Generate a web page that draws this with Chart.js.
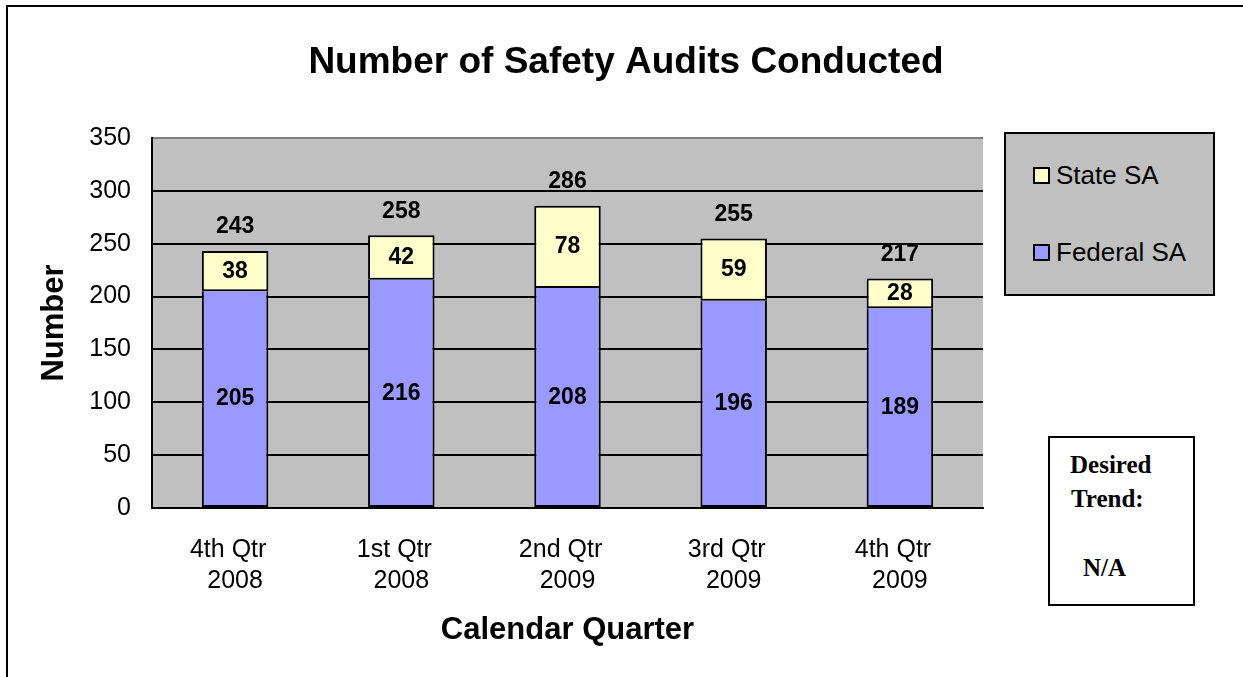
<!DOCTYPE html>
<html>
<head>
<meta charset="utf-8">
<title>Number of Safety Audits Conducted</title>
<script src="https://cdn.jsdelivr.net/npm/chart.js@4"></script>
<style>
  body { margin: 0; background: #fff; font-family: 'Liberation Sans', Arial, sans-serif; }
  #wrap { position: relative; width: 1243px; height: 677px; overflow: hidden; }
  #frame { position: absolute; left: 6px; top: 5px; width: 1300px; height: 700px;
           border-left: 2px solid #000; border-top: 2px solid #000; }
  #chart { position: absolute; left: 0; top: 0; }
  #legend { position: absolute; left: 1004px; top: 132px; width: 207px; height: 160px;
            background: #c0c0c0; border: 2px solid #000; }
  .item { position: absolute; left: 27px; height: 30px; display: flex; align-items: center;
          font-size: 26px; color: #000; white-space: nowrap; }
  .swatch { width: 13px; height: 13px; border: 2px solid #000; margin-right: 6px; }
  #trend { position: absolute; left: 1048px; top: 436px; width: 143px; height: 166px;
           border: 2px solid #000; background: #fff;
           font-family: 'Liberation Serif', 'Times New Roman', serif; font-weight: bold; font-size: 25px; }
  #trend div { position: absolute; white-space: nowrap; line-height: 30px; }
</style>
</head>
<body>
<div id="wrap">
  <div id="frame"></div>
  <canvas id="chart" width="1243" height="677"></canvas>
  <div id="legend"></div>
  <div id="trend">
    <div style="left:20px; top:12px;">Desired</div>
    <div style="left:21px; top:46px;">Trend:</div>
    <div style="left:33px; top:115px;">N/A</div>
  </div>
</div>
<script>
const quarters = [['4th Qtr', '2008'], ['1st Qtr', '2008'], ['2nd Qtr', '2009'], ['3rd Qtr', '2009'], ['4th Qtr', '2009']];
const federalSA = [205, 216, 208, 196, 189];
const stateSA = [38, 42, 78, 59, 28];
const yTicks = [0, 50, 100, 150, 200, 250, 300, 350];
const chartTitle = 'Number of Safety Audits Conducted';

const fontFamily = "'Liberation Sans', Arial, sans-serif";

// grey plot area like the original
const plotBackground = {
    id: 'plotBackground',
    beforeDraw(chart) {
        const a = chart.chartArea;
        const ctx = chart.ctx;
        ctx.save();
        ctx.fillStyle = '#c0c0c0';
        ctx.fillRect(a.left, a.top, a.right - a.left, a.bottom - a.top);
        ctx.restore();
    }
};

// title sits centred over the whole picture, not just the plot
const titlePlugin = {
    id: 'titlePlugin',
    afterDraw(chart) {
        const ctx = chart.ctx;
        ctx.save();
        ctx.font = 'bold 37px ' + fontFamily;
        ctx.fillStyle = '#000';
        ctx.textAlign = 'center';
        ctx.textBaseline = 'middle';
        ctx.fillText(chartTitle, 626, 63);
        ctx.restore();
    }
};

// segment values inside bars, totals above
const valueLabels = {
    id: 'valueLabels',
    afterDatasetsDraw(chart) {
        const ctx = chart.ctx;
        ctx.save();
        ctx.font = 'bold 23px ' + fontFamily;
        ctx.fillStyle = '#000';
        ctx.textAlign = 'center';
        ctx.textBaseline = 'middle';
        chart.data.datasets.forEach((ds, i) => {
            chart.getDatasetMeta(i).data.forEach((bar, j) => {
                ctx.fillText(ds.data[j], bar.x, (bar.y + bar.base) / 2);
            });
        });
        const top = chart.getDatasetMeta(chart.data.datasets.length - 1).data;
        for (let j = 0; j < federalSA.length; j++) {
            ctx.fillText(federalSA[j] + stateSA[j], top[j].x, top[j].y - 24);
        }
        ctx.restore();
    }
};

const ctx = document.getElementById('chart').getContext('2d');
const chart = new Chart(ctx, {
    type: 'bar',
    data: {
        labels: quarters,
        datasets: [{
            label: 'Federal SA',
            data: federalSA,
            backgroundColor: '#9999ff',
            borderColor: '#000',
            borderWidth: 2,
            borderSkipped: 'top'
        }, {
            label: 'State SA',
            data: stateSA,
            backgroundColor: '#ffffcc',
            borderColor: '#000',
            borderWidth: 2,
            borderSkipped: false
        }]
    },
    options: {
        responsive: false,
        animation: false,
        layout: { padding: { left: 0, right: 260, top: 138, bottom: 0 } },
        datasets: { bar: { barPercentage: 0.4, categoryPercentage: 1 } },
        plugins: {
            legend: { display: false },
            tooltip: { enabled: false },
            title: { display: false }
        },
        scales: {
            x: {
                stacked: true,
                grid: { display: false, drawTicks: false },
                border: { color: '#000', width: 2 },
                ticks: {
                    color: '#000',
                    padding: 27,
                    maxRotation: 0,
                    font: { family: fontFamily, size: 25, lineHeight: 1.24 },
                    // first line sits a little left of the year, as in the original
                    callback(value, index) {
                        const lines = quarters[index];
                        return [lines[0] + '  ', lines[1]];
                    }
                },
                title: {
                    display: true,
                    text: 'Calendar Quarter',
                    color: '#000',
                    font: { family: fontFamily, size: 31, weight: 'bold', lineHeight: 1.2 },
                    padding: { top: 0, bottom: 28 }
                },
                afterFit(scale) { scale.height = 169; }
            },
            y: {
                stacked: true,
                min: 0,
                max: 350,
                grid: {
                    drawTicks: false,
                    color: c => (c.tick && c.tick.value === 350) ? '#808080' : '#000',
                    lineWidth: 2
                },
                border: { color: '#000', width: 2 },
                afterBuildTicks(scale) { scale.ticks = yTicks.map(v => ({ value: v })); },
                ticks: {
                    color: '#000',
                    padding: 21,
                    font: { family: fontFamily, size: 25 }
                },
                title: {
                    display: true,
                    text: 'Number',
                    color: '#000',
                    font: { family: fontFamily, size: 31, weight: 'bold', lineHeight: 1.2 },
                    padding: { top: 36, bottom: 0 }
                },
                afterFit(scale) { scale.width = 152; }
            }
        }
    },
    plugins: [plotBackground, valueLabels, titlePlugin]
});

// legend box, State above Federal as in the original
const legendBox = document.getElementById('legend');
const items = chart.data.datasets.slice().reverse();
items.forEach((ds, i) => {
    const el = document.createElement('div');
    el.className = 'item';
    el.style.top = (26 + i * 77) + 'px';
    el.innerHTML = `<span class="swatch" style="background:${ds.backgroundColor}"></span>${ds.label}`;
    legendBox.appendChild(el);
});
</script>
</body>
</html>
